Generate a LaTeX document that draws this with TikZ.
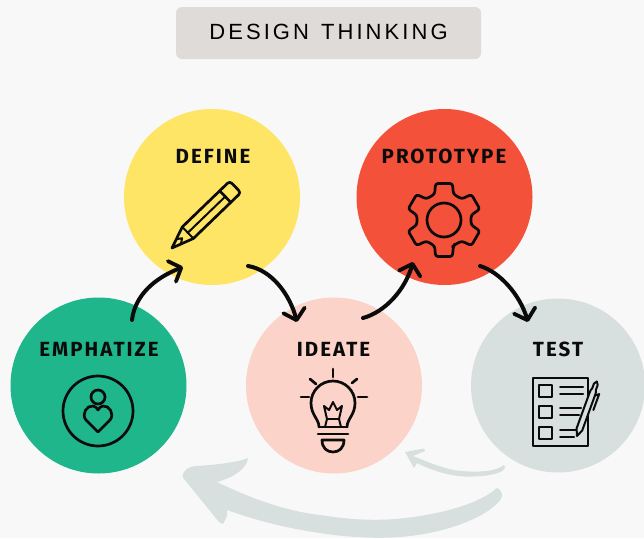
\documentclass[tikz,border=0pt]{standalone}
\usepackage{fontspec}
\usetikzlibrary{arrows.meta,calc}
\setmainfont{Liberation Sans}
\newfontfamily\titlefont[LetterSpace=14,WordSpace=1.3]{Liberation Sans}
\newfontfamily\stepfont[LetterSpace=10]{Fira Sans}
\definecolor{bgc}{HTML}{F8F8F8}
\definecolor{boxc}{HTML}{DFDBD8}
\definecolor{greenc}{HTML}{1FB68B}
\definecolor{yellowc}{HTML}{FEE566}
\definecolor{redc}{HTML}{F4513A}
\definecolor{pinkc}{HTML}{FCD3C8}
\definecolor{greyc}{HTML}{D7E0DF}
\definecolor{inkc}{HTML}{0B0B0B}
\tikzset{
  x=1pt,y=-1pt,
  disc/.style={circle,minimum size=176pt,inner sep=0pt,draw=none},
  steplabel/.style={font=\stepfont\bfseries\fontsize{20.5}{22}\selectfont,text=inkc,inner sep=0pt,anchor=center},
  flow/.style={draw=inkc,line width=4pt,line cap=round,line join=round,-{Straight Barb[length=10pt,width=22pt,line width=3.8pt,round]}},
  icon/.style={draw=inkc,line width=2.7pt,line cap=round,line join=round},
  thinicon/.style={draw=inkc,line width=2pt,line cap=round,line join=round},
  paleshape/.style={fill=greyc,draw=none},
}
\begin{document}
\begin{tikzpicture}
\useasboundingbox (0,0) rectangle (644,538);
\fill[bgc] (0,0) rectangle (644,538);
% title
\node[fill=boxc,rounded corners=6pt,minimum width=305pt,minimum height=52pt,inner sep=0pt] (title) at (328.5,33) {};
\node[inner sep=0pt] (titletext) at (328.5,32) {\titlefont\fontsize{22}{24}\selectfont DESIGN THINKING};
% pale return arrows
\fill[paleshape] (504,465) .. controls (495,472) and (475,473) .. (453,470)
  .. controls (440,467) and (425,461) .. (413,456) -- (425,451) -- (424,448.5) -- (405,452)
  -- (414,468) -- (417,463) .. controls (430,470) and (450,476) .. (465,476.5)
  .. controls (485,477) and (502,474) .. (505,468) -- cycle;
\fill[paleshape] (182.5,477) .. controls (183,470) and (188,467) .. (196,466)
  .. controls (215,465) and (240,462) .. (248,458)
  .. controls (247,468) and (235,477) .. (217,482)
  .. controls (250,498) and (285,511) .. (320,515)
  .. controls (345,519) and (370,521) .. (395,519)
  .. controls (430,516) and (475,507) .. (497,488)
  .. controls (502,490) and (503,495) .. (501,499)
  .. controls (490,515) and (450,533) .. (400,537)
  .. controls (375,539) and (345,537) .. (320,533)
  .. controls (285,528) and (255,520) .. (227,510)
  -- (227,516) -- (223,524) -- (219,522) -- cycle;
% circles
\node[disc,fill=greenc] (emph) at (98.5,385.5) {};
\node[disc,fill=yellowc] (defn) at (212,197) {};
\node[disc,fill=redc] (proto) at (444.5,197) {};
\node[disc,fill=pinkc] (idea) at (334,385.5) {};
\node[disc,fill=greyc,minimum size=174pt] (test) at (558,385.5) {};
% labels
\node[steplabel] (lemph) at (99,349) {EMPHATIZE};
\node[steplabel] (ldefn) at (213,156) {DEFINE};
\node[steplabel] (lproto) at (444,156) {PROTOTYPE};
\node[steplabel] (lidea) at (333.5,349) {IDEATE};
\node[steplabel] (ltest) at (558,349) {TEST};
% connector ends
\coordinate (a1) at (132,320); \coordinate (b1) at (183,267);
\coordinate (a2) at (248,266); \coordinate (b2) at (297,322);
\coordinate (a3) at (363,318); \coordinate (b3) at (413,262);
\coordinate (a4) at (480,266); \coordinate (b4) at (528,322);
\draw[flow] (a1) .. controls (135,295) and (155,278) .. (b1);
\draw[flow] (a2) .. controls (272,270) and (290,295) .. (b2);
\draw[flow] (a3) .. controls (385,312) and (405,290) .. (b3);
\draw[flow] (a4) .. controls (500,272) and (520,295) .. (b4);
% person icon
\begin{scope}[shift={(98,411)}]
\draw[icon] (0,0) circle (35);
\draw[icon] (0,-14) circle (7);
\draw[icon] (0,21) -- (-12,9) .. controls (-17,3) and (-11,-6) .. (-5,-5) .. controls (-3,-5) and (-1,-3) .. (0,-1)
  .. controls (1,-3) and (3,-5) .. (5,-5) .. controls (11,-6) and (17,3) .. (12,9) -- cycle;
\end{scope}
% pencil icon
\begin{scope}[shift={(172,248)},rotate=44]
\draw[icon] (0,0) -- (22,-8) -- (74,-8) -- (74,8) -- (22,8) -- cycle;
\draw[thinicon] (22,-8) -- (22,8);
\draw[icon,rounded corners=3pt] (74,-8) -- (88,-8) -- (88,8) -- (74,8);
\draw[thinicon] (22,0) -- (74,0);
\draw[thinicon] (9,-3.5) -- (14,0) -- (9,3.5);
\end{scope}
% gear icon
\begin{scope}[shift={(444,220)}]
\draw[icon,rounded corners=2.5pt] (68:27)
  \foreach \a in {90,150,210,270,330,30} { -- (\a-20:27.5) -- (\a-13:37.5) -- (\a+13:37.5) -- (\a+20:27.5) } -- cycle;
\draw[icon] (0,0) circle (17);
\end{scope}
% bulb icon
\begin{scope}[shift={(333,403)}]
\draw[icon] (-14,24) .. controls (-14,16) and (-22,12) .. (-22,0) arc[start angle=180,end angle=360,radius=22] .. controls (22,12) and (14,16) .. (14,24);
\draw[icon] (-14,24) -- (14,24);
\draw[icon] (-15,31) -- (15,31);
\draw[icon] (-11,37) -- (11,37) .. controls (11,45) and (6,49) .. (0,49) .. controls (-6,49) and (-11,45) .. (-11,37) -- cycle;
\draw[thinicon] (-8,24) -- (-6,16) -- (-9,3) -- (-4,7) -- (0,-1) -- (4,7) -- (9,3) -- (6,16) -- (8,24);
\draw[thinicon] (-6,16) -- (6,16);
\draw[icon] (0,-34) -- (0,-26);
\draw[icon] (19,-20) -- (24,-24);
\draw[icon] (25,-6) -- (34,-6);
\draw[icon] (-23,-24) -- (-17,-19);
\draw[icon] (-32,-6) -- (-24,-6);
\end{scope}
% checklist icon
\draw[thinicon] (533,378) rectangle (588,446);
\draw[thinicon] (539,385) rectangle (552,397);
\draw[thinicon] (539,406) rectangle (552,418);
\draw[thinicon] (539,427) rectangle (552,439);
\draw[thinicon] (560,387) -- (583,387) (560,394) -- (583,394);
\draw[thinicon] (560,408) -- (581,408) (560,415) -- (579,415);
\draw[thinicon] (560,430) -- (576,430) (560,437) -- (574,437);
\begin{scope}[shift={(577,436)},rotate=70]
\filldraw[thinicon,fill=greyc] (0,0) -- (7,-3) -- (44,-3) .. controls (48,-3) and (49,-2.5) .. (50,-2) -- (55,-2) -- (58,0) -- (55,2) -- (50,2) .. controls (49,2.5) and (48,3) .. (44,3) -- (7,3) -- cycle;
\draw[thinicon] (44,3) -- (47,6.5) -- (30,6.5);
\end{scope}
\end{tikzpicture}
\end{document}
